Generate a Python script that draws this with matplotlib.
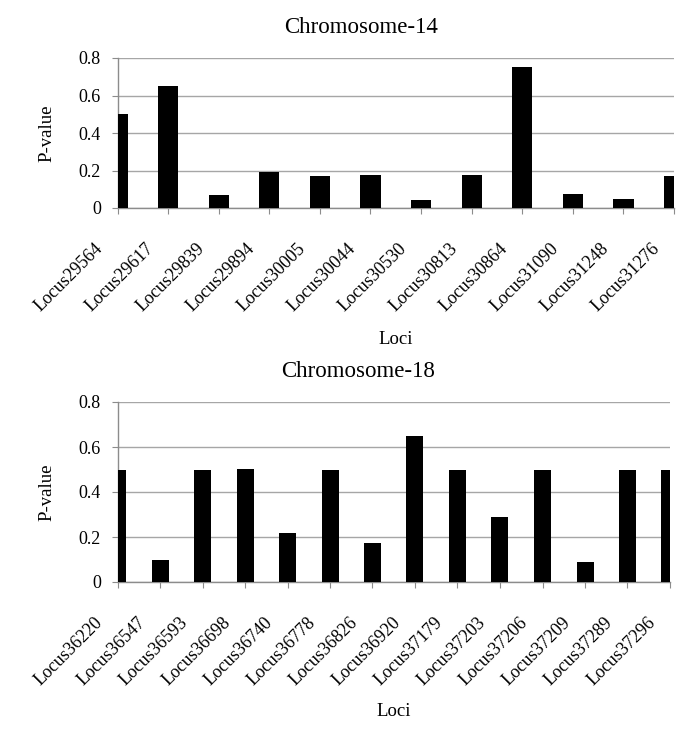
import matplotlib
matplotlib.use("Agg")
import matplotlib.pyplot as plt
import matplotlib.transforms as mtransforms
import numpy as np

plt.rcParams['font.family'] = ['Liberation Serif', 'DejaVu Serif']

# Chromosome-14
loci_14 = ["Locus29564", "Locus29617", "Locus29839", "Locus29894", "Locus30005", "Locus30044",
           "Locus30530", "Locus30813", "Locus30864", "Locus31090", "Locus31248", "Locus31276"]
pval_14 = [0.50, 0.65, 0.07, 0.19, 0.172, 0.175, 0.043, 0.175, 0.753, 0.075, 0.05, 0.172]

# Chromosome-18
loci_18 = ["Locus36220", "Locus36547", "Locus36593", "Locus36698", "Locus36740", "Locus36778",
           "Locus36826", "Locus36920", "Locus37179", "Locus37203", "Locus37206", "Locus37209",
           "Locus37289", "Locus37296"]
pval_18 = [0.50, 0.098, 0.50, 0.502, 0.217, 0.50, 0.174, 0.648, 0.50, 0.29, 0.50, 0.087, 0.50, 0.50]

GRID = "#a6a6a6"
AXIS = "#8c8c8c"

fig = plt.figure(figsize=(6.85, 7.31), dpi=100)
W, H = 685, 731


def px_axes(left, right, top, bottom):
    return fig.add_axes([left / W, 1 - bottom / H, (right - left) / W, (bottom - top) / H])


def draw(ax, loci, vals, title, title_x, label_y, ylabel_x):
    x = np.arange(len(loci))
    ax.bar(x, vals, width=0.4, color="black", zorder=3)
    ax.set_xlim(0, len(loci) - 1)
    ax.set_ylim(0, 0.8)
    ax.set_yticks([0, 0.2, 0.4, 0.6, 0.8])
    ax.set_yticklabels(["0", "0.2", "0.4", "0.6", "0.8"])
    ax.yaxis.grid(True, color=GRID, linewidth=1.0, zorder=0)
    ax.set_axisbelow(True)

    for s in ("top", "right"):
        ax.spines[s].set_visible(False)
    for s in ("left", "bottom"):
        ax.spines[s].set_color(AXIS)
        ax.spines[s].set_linewidth(1.0)

    ax.set_xticks(x)
    ax.set_xticklabels(loci, rotation=45, ha="right", va="top", fontsize=13)
    ax.tick_params(axis="x", direction="out", length=4, color=AXIS, pad=19)
    ax.tick_params(axis="y", direction="out", length=4, color=AXIS, pad=8, labelsize=13)

    offset = mtransforms.ScaledTranslation(-11 / 100, 0, fig.dpi_scale_trans)
    for lbl in ax.get_xticklabels():
        lbl.set_transform(lbl.get_transform() + offset)

    ax.set_title(title, fontsize=16.5, x=title_x, pad=18)
    ax.set_xlabel("Loci", fontsize=13.5)
    ax.xaxis.set_label_coords(0.5, label_y)
    ax.set_ylabel("P-value", fontsize=13.5, va="center")
    ax.yaxis.set_label_coords(ylabel_x, 0.5)


ax1 = px_axes(117.5, 674, 58, 208)
draw(ax1, loci_14, pval_14, "Chromosome-14", 0.438, -0.82, -0.127)

ax2 = px_axes(117.5, 670, 402, 582)
draw(ax2, loci_18, pval_18, "Chromosome-18", 0.436, -0.672, -0.128)

fig.savefig("out.png", dpi=100, facecolor="white")
